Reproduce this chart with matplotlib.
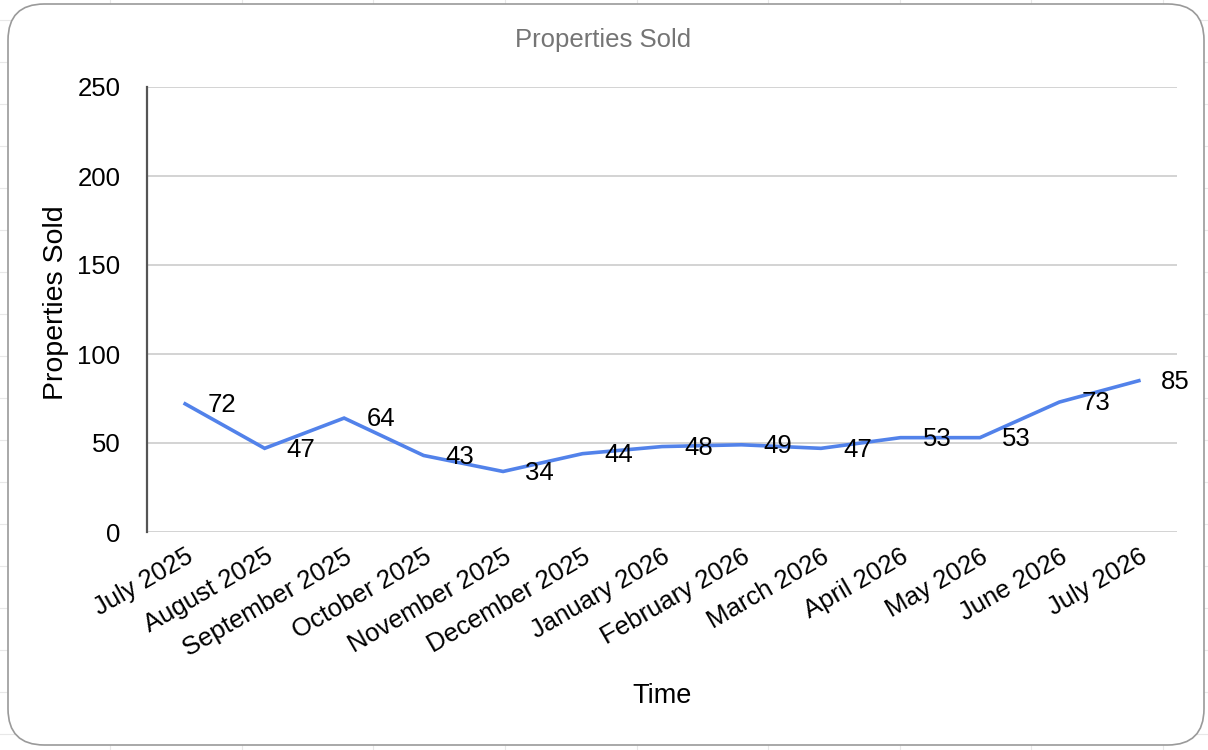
import matplotlib
matplotlib.use("Agg")
import matplotlib.pyplot as plt
from matplotlib.patches import FancyBboxPatch
from matplotlib.lines import Line2D

months = ["July 2025", "August 2025", "September 2025", "October 2025", "November 2025",
          "December 2025", "January 2026", "February 2026", "March 2026", "April 2026",
          "May 2026", "June 2026", "July 2026"]
sold = [72, 47, 64, 43, 34, 44, 48, 49, 47, 53, 53, 73, 85]
yticks = [0, 50, 100, 150, 200, 250]

plt.rcParams['font.family'] = ['Liberation Sans', 'DejaVu Sans']

fig = plt.figure(figsize=(12.08, 7.5), dpi=100)

# faint spreadsheet cells behind the chart
for x in [110, 242, 373, 505, 637, 768, 900, 1031, 1163]:
    fig.add_artist(Line2D([x / 1208, x / 1208], [0, 1], color='#e8e8e8', lw=0.8, zorder=0))
for y in [20, 62, 104, 146, 188, 230, 272, 314, 356, 398, 440, 482, 524, 566, 608, 650, 692, 734]:
    fig.add_artist(Line2D([0, 1], [1 - y / 750, 1 - y / 750], color='#e8e8e8', lw=0.8, zorder=0))

box = FancyBboxPatch((8 / 1208, 5 / 750), 1196 / 1208, 741 / 750,
                     boxstyle="round,pad=0,rounding_size=0.03", transform=fig.transFigure,
                     facecolor='white', edgecolor='#9a9a9a', lw=1.2, zorder=1,
                     mutation_aspect=1208 / 750)
fig.add_artist(box)

ax = fig.add_axes([147 / 1208, 1 - 532 / 750, (1177 - 147) / 1208, (532 - 87) / 750])
ax.set_facecolor('none')
ax.set_zorder(2)

x = list(range(len(months)))
ax.plot(x, sold, color='#5282ea', lw=2.6, solid_joinstyle='miter')
for i, v in zip(x, sold):
    ax.annotate(str(v), (i, v), xytext=(16, -1), textcoords='offset points',
                ha='left', va='center', fontsize=18.5, color='black')

ax.set_xlim(-0.48, len(months) - 1 + 0.48)
ax.set_ylim(0, 250)
ax.set_yticks(yticks)
ax.set_yticklabels([str(t) for t in yticks], fontsize=18.5)
ax.set_xticks(x)
ax.set_xticklabels(months, rotation=30, ha='right', rotation_mode='anchor', fontsize=18.5)
ax.tick_params(axis='both', length=0)
ax.tick_params(axis='y', pad=19)
ax.tick_params(axis='x', pad=9)
ax.grid(axis='y', color='#cccccc', lw=1.2)
ax.set_axisbelow(True)
for s in ['top', 'right', 'bottom']:
    ax.spines[s].set_visible(False)
ax.spines['left'].set_color('#555555')
ax.spines['left'].set_linewidth(1.6)

ax.set_ylabel("Properties Sold", fontsize=20.5)
ax.yaxis.set_label_coords(-0.076, 0.515)
ax.set_xlabel("Time", fontsize=19.5, labelpad=16)
fig.text(603 / 1208, 1 - 40 / 750, "Properties Sold", ha='center', va='center',
         fontsize=18.5, color='#757575')

fig.savefig("out.png", dpi=100)
